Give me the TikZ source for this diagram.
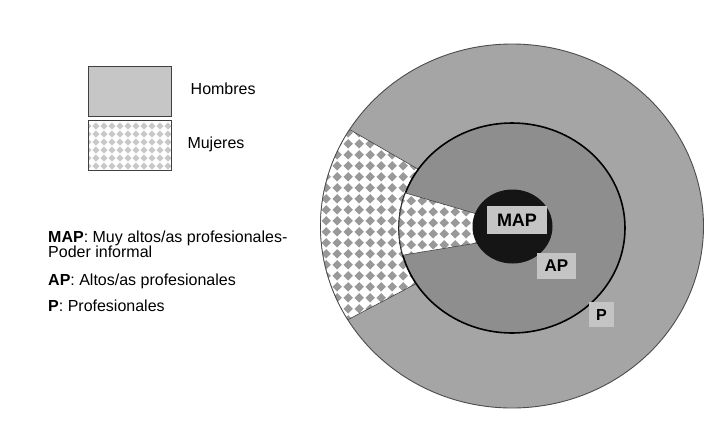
\documentclass[tikz,border=0pt]{standalone}
\usepackage{fontspec}
\setmainfont{Liberation Sans}
\usetikzlibrary{patterns}
\pgfdeclarepatternformonly{diamondsbig}{\pgfqpoint{0pt}{0pt}}{\pgfqpoint{10.7pt}{10.7pt}}{\pgfqpoint{10.7pt}{10.7pt}}{%
  \pgfpathmoveto{\pgfqpoint{5.35pt}{0.5pt}}%
  \pgfpathlineto{\pgfqpoint{10.2pt}{5.35pt}}%
  \pgfpathlineto{\pgfqpoint{5.35pt}{10.2pt}}%
  \pgfpathlineto{\pgfqpoint{0.5pt}{5.35pt}}%
  \pgfpathclose
  \pgfusepath{fill}}
\pgfdeclarepatternformonly{diamondssmall}{\pgfqpoint{0pt}{0pt}}{\pgfqpoint{8.4pt}{8.4pt}}{\pgfqpoint{8.4pt}{8.4pt}}{%
  \pgfpathmoveto{\pgfqpoint{4.2pt}{0.4pt}}%
  \pgfpathlineto{\pgfqpoint{8pt}{4.2pt}}%
  \pgfpathlineto{\pgfqpoint{4.2pt}{8pt}}%
  \pgfpathlineto{\pgfqpoint{0.4pt}{4.2pt}}%
  \pgfpathclose
  \pgfusepath{fill}}
\definecolor{ringP}{HTML}{A5A5A5}
\definecolor{ringAP}{HTML}{8E8E8E}
\definecolor{corecol}{HTML}{151515}
\definecolor{legH}{HTML}{C6C6C6}
\definecolor{labbox}{HTML}{C4C4C4}
\definecolor{diaA}{HTML}{999999}
\definecolor{diaB}{HTML}{C8C8C8}
\begin{document}
\begin{tikzpicture}[x=1pt,y=-1pt,
  checkwedge/.style={preaction={fill=white}, pattern=diamondsbig, pattern color=diaA, draw=black!75, line width=0.6pt},
  legbox/.style={draw=black!75, line width=0.9pt, minimum width=83pt, minimum height=50pt, inner sep=0pt, anchor=north west},
  legtext/.style={anchor=base west, inner sep=0pt, font=\fontsize{16}{18}\selectfont},
  lab/.style={fill=labbox, inner sep=0pt, text=black, font=\bfseries\fontsize{17}{20}\selectfont}]
\useasboundingbox (0,0) rectangle (726,421);
\fill[white] (0,0) rectangle (726,421);
% outer ring P
\draw[fill=ringP, draw=black!70, line width=0.9pt] (512,226) ellipse [x radius=191.5, y radius=182];
% women wedge in P ring
\path[checkwedge] plot[domain=149:212,samples=40] ({512+191.5*cos(\x)},{226+182*sin(\x)})
  -- plot[domain=214:148,samples=40] ({512+113*cos(\x)},{228+105*sin(\x)}) -- cycle;
% middle ring AP
\draw[fill=ringAP, draw=black, line width=1.6pt] (512,228) ellipse [x radius=113, y radius=105];
% women wedge in AP ring
\path[checkwedge] plot[domain=165:199.5,samples=20] ({512+113*cos(\x)},{228+105*sin(\x)})
  -- (477,214) -- (477,243) -- cycle;
% core MAP
\fill[corecol] (512.5,226.5) ellipse [x radius=40, y radius=37];
% labels
\node[lab, minimum width=60pt, minimum height=28pt, font=\bfseries\fontsize{18}{20}\selectfont] (map) at (517,220) {MAP};
\node[lab, minimum width=39pt, minimum height=26pt] (ap) at (556.5,266) {AP};
\node[lab, minimum width=25pt, minimum height=25pt, font=\bfseries\fontsize{16}{19}\selectfont] (p) at (601.5,314.5) {P};
% legend
\node[legbox, fill=legH] (hbox) at (88,66) {};
\node[legbox, preaction={fill=white}, pattern=diamondssmall, pattern color=diaB] (mbox) at (88,120) {};
\node[legtext] (htext) at (190.5,94.3) {Hombres};
\node[legtext] (mtext) at (187.3,148.3) {Mujeres};
\node[legtext] (l1) at (48,242) {\textbf{MAP}: Muy altos/as profesionales-};
\node[legtext] (l2) at (48,257.5) {Poder informal};
\node[legtext] (l3) at (48,285.5) {\textbf{AP}: Altos/as profesionales};
\node[legtext] (l4) at (48,311.5) {\textbf{P}: Profesionales};
\end{tikzpicture}
\end{document}
